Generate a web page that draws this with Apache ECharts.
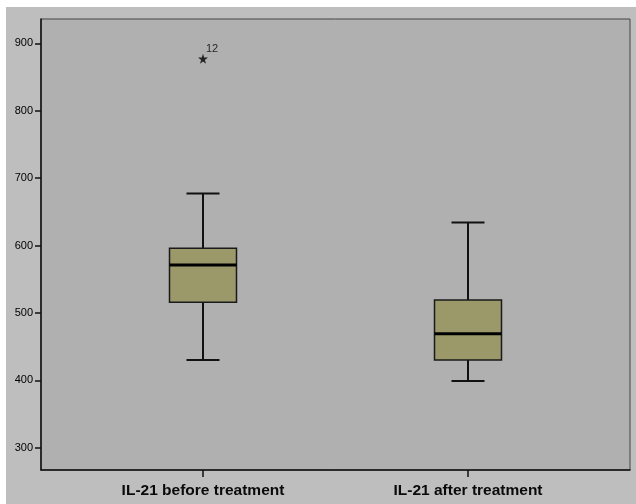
<!DOCTYPE html>
<html>
<head>
<meta charset="utf-8">
<script src="https://cdn.jsdelivr.net/npm/echarts@6/dist/echarts.min.js"></script>
<style>
html,body{margin:0;padding:0;background:#ffffff;width:636px;height:504px;overflow:hidden;}
#chart{position:absolute;left:6px;top:7px;width:630px;height:497px;}
</style>
</head>
<body>
<div id="chart"></div>
<script>
var categories = ['IL-21 before treatment', 'IL-21 after treatment'];
var lowWhisker = [430, 399];
var q1 = [516, 430];
var median = [571, 469];
var q3 = [596, 519];
var highWhisker = [677, 634];
var outlierCategory = [0];
var outlierValue = [877];
var outlierLabel = ['12'];
var yTicks = [300, 400, 500, 600, 700, 800, 900];
var yMin = 267, yMax = 936;

var boxData = categories.map(function (c, i) {
  return [i, lowWhisker[i], q1[i], median[i], q3[i], highWhisker[i]];
});
var outlierData = outlierValue.map(function (v, i) {
  return { value: [outlierCategory[i], v], label: outlierLabel[i] };
});

var chart = echarts.init(document.getElementById('chart'), null, { renderer: 'canvas' });

function renderBox(params, api) {
  var x = api.value(0);
  var pLow = api.coord([x, api.value(1)]);
  var pQ1 = api.coord([x, api.value(2)]);
  var pMed = api.coord([x, api.value(3)]);
  var pQ3 = api.coord([x, api.value(4)]);
  var pHigh = api.coord([x, api.value(5)]);
  var cx = pLow[0];
  var bw = 67, cw = 33;
  return {
    type: 'group',
    children: [
      { type: 'line', shape: { x1: cx, y1: pHigh[1], x2: cx, y2: pQ3[1] }, style: { stroke: '#111', lineWidth: 2 } },
      { type: 'line', shape: { x1: cx, y1: pQ1[1], x2: cx, y2: pLow[1] }, style: { stroke: '#111', lineWidth: 2 } },
      { type: 'line', shape: { x1: cx - cw / 2, y1: pHigh[1], x2: cx + cw / 2, y2: pHigh[1] }, style: { stroke: '#111', lineWidth: 2 } },
      { type: 'line', shape: { x1: cx - cw / 2, y1: pLow[1], x2: cx + cw / 2, y2: pLow[1] }, style: { stroke: '#111', lineWidth: 2 } },
      { type: 'rect', shape: { x: cx - bw / 2, y: pQ3[1], width: bw, height: pQ1[1] - pQ3[1] }, style: { fill: '#9b9869', stroke: '#1a1a1a', lineWidth: 1.5 } },
      { type: 'line', shape: { x1: cx - bw / 2, y1: pMed[1], x2: cx + bw / 2, y2: pMed[1] }, style: { stroke: '#000', lineWidth: 3 } }
    ]
  };
}

var option = {
  backgroundColor: '#bebebe',
  animation: false,
  grid: [
    { left: 35, top: 12, right: 6, bottom: 34, show: true, backgroundColor: '#b0b0b0', borderColor: '#444', borderWidth: 1 },
    { left: 64.5, top: 12, right: 35.5, bottom: 34 }
  ],
  xAxis: [
    { type: 'category', gridIndex: 0, data: categories, axisLine: { show: true, lineStyle: { color: '#111', width: 1.5 } }, axisTick: { show: false }, axisLabel: { show: false }, splitLine: { show: false } },
    { type: 'category', gridIndex: 1, data: categories,
      axisLine: { show: false },
      axisTick: { show: true, alignWithLabel: true, length: 7, lineStyle: { color: '#111', width: 1.5 } },
      axisLabel: { show: true, interval: 0, margin: 13, color: '#0a0a0a', fontSize: 15.5, fontWeight: 'bold', fontFamily: 'Liberation Sans, Arial, sans-serif' },
      splitLine: { show: false } }
  ],
  yAxis: [
    { type: 'value', gridIndex: 0, min: yMin, max: yMax,
      axisLine: { show: true, lineStyle: { color: '#111', width: 1.5 } },
      axisTick: { show: true, length: 6, customValues: yTicks, lineStyle: { color: '#111', width: 1.5 } },
      axisLabel: { show: true, customValues: yTicks, margin: 8, color: '#000', fontSize: 11, fontFamily: 'Liberation Sans, Arial, sans-serif' },
      splitLine: { show: false } },
    { type: 'value', gridIndex: 1, min: yMin, max: yMax, show: false, splitLine: { show: false } }
  ],
  series: [
    { type: 'custom', xAxisIndex: 1, yAxisIndex: 1, data: boxData, renderItem: renderBox,
      encode: { x: 0, y: [1, 2, 3, 4, 5] } },
    { type: 'scatter', xAxisIndex: 1, yAxisIndex: 1, data: outlierData,
      symbol: 'path://M50,0 L61,35 L98,35 L68,57 L79,91 L50,70 L21,91 L32,57 L2,35 L39,35 Z',
      symbolSize: 10,
      itemStyle: { color: '#000' },
      label: { show: true, formatter: function (p) { return p.data.label; }, position: [8, -10], align: 'left', verticalAlign: 'top', color: '#000', fontSize: 11, fontFamily: 'Liberation Sans, Arial, sans-serif' } }
  ]
};
chart.setOption(option);
</script>
</body>
</html>
